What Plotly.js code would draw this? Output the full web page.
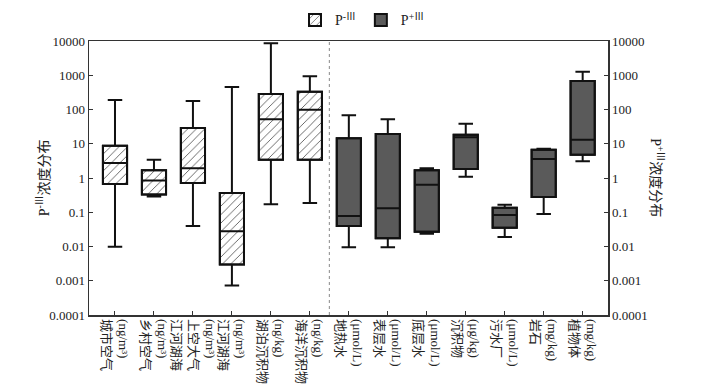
<!DOCTYPE html>
<html>
<head>
<meta charset="utf-8">
<script src="https://cdn.plot.ly/plotly-3.0.1.min.js"></script>
<style>html,body{margin:0;padding:0;background:#fff}#chart{width:724px;height:391px}</style>
</head>
<body>
<div id="chart"></div>
<script>
// Category labels (lines listed right-to-left as drawn after 90° rotation)
const categories = [
  "(ng/m³)<br>城市空气",
  "(ng/m³)<br>乡村空气",
  "(ng/m³)<br>上空大气<br>江河湖海",
  "(ng/m³)<br>江河湖海",
  "(ng/kg)<br>湖泊沉积物",
  "(ng/kg)<br>海洋沉积物",
  "(μmol/L)<br>地热水",
  "(μmol/L)<br>表层水",
  "(μmol/L)<br>底层水",
  "(μg/kg)<br>沉积物",
  "(μmol/L)<br>污水厂",
  "(mg/kg)<br>岩石",
  "(mg/kg)<br>植物体"
];
const xMinus = [0, 1, 2, 3, 4, 5];
const xPlus  = [6, 7, 8, 9, 10, 11, 12];

// P-III statistics
const minusLow    = [0.0098, 0.29, 0.04, 0.00073, 0.17, 0.186];
const minusQ1     = [0.67, 0.33, 0.71, 0.003, 3.4, 3.4];
const minusMedian = [2.74, 0.84, 1.92, 0.028, 51.6, 98.8];
const minusQ3     = [8.8, 1.68, 28.8, 0.365, 283, 331];
const minusHigh   = [189, 3.4, 177, 454, 8600, 932];

// P+III statistics
const plusLow    = [0.0095, 0.0095, 0.0237, 1.09, 0.019, 0.089, 3.06];
const plusQ1     = [0.04, 0.0173, 0.027, 1.83, 0.035, 0.28, 4.8];
const plusMedian = [0.078, 0.13, 0.64, 15.4, 0.083, 3.6, 13.1];
const plusQ3     = [14.4, 19.3, 1.68, 18.4, 0.136, 6.7, 680];
const plusHigh   = [68, 52, 1.92, 38.5, 0.166, 7.2, 1270];

const yTickVals = [0.0001, 0.001, 0.01, 0.1, 1, 10, 100, 1000, 10000];
const yTickText = ["0.0001", "0.001", "0.01", "0.1", "1", "10", "100", "1000", "10000"];

const serif = "Liberation Serif, 'Times New Roman', 'Noto Sans CJK SC', serif";
const BW = 0.62;

const diff = (a, b) => a.map((v, i) => v - b[i]);

const traces = [
  {
    type: "bar", name: "P<sup>-Ⅲ</sup>", x: xMinus, base: minusQ1, y: diff(minusQ3, minusQ1),
    width: BW, yaxis: "y",
    marker: { color: "#ffffff", line: { color: "#111", width: 2 },
      pattern: { shape: "/", fgcolor: "#333", bgcolor: "#ffffff", size: 6, solidity: 0.12 } },
    hoverinfo: "skip"
  },
  {
    type: "bar", name: "P<sup>+Ⅲ</sup>", x: xPlus, base: plusQ1, y: diff(plusQ3, plusQ1),
    width: BW, yaxis: "y2",
    marker: { color: "#5a5a5a", line: { color: "#111", width: 2 } },
    hoverinfo: "skip"
  },
  {
    type: "box", x: xMinus, q1: minusQ1, median: minusMedian, q3: minusQ3,
    lowerfence: minusLow, upperfence: minusHigh, width: BW, whiskerwidth: 0.6,
    fillcolor: "rgba(0,0,0,0)", line: { color: "#111", width: 2 },
    boxpoints: false, showlegend: false, yaxis: "y"
  },
  {
    type: "box", x: xPlus, q1: plusQ1, median: plusMedian, q3: plusQ3,
    lowerfence: plusLow, upperfence: plusHigh, width: BW, whiskerwidth: 0.6,
    fillcolor: "rgba(0,0,0,0)", line: { color: "#111", width: 2 },
    boxpoints: false, showlegend: false, yaxis: "y2"
  }
];

const yCommon = {
  type: "log", range: [-4, 4], tickvals: yTickVals, ticktext: yTickText, automargin: false,
  ticks: "inside", ticklen: 4, tickcolor: "#333", showgrid: false, zeroline: false,
  showline: true, linecolor: "#333", linewidth: 1.5,
  tickfont: { family: serif, size: 13, color: "#222" }
};

const layout = {
  width: 724, height: 391,
  margin: { l: 89, r: 116, t: 41, b: 76, autoexpand: false },
  paper_bgcolor: "#fff", plot_bgcolor: "#fff",
  barmode: "overlay", boxmode: "overlay",
  font: { family: serif, color: "#222" },
  showlegend: true,
  legend: { orientation: "h", xref: "container", yref: "container",
    x: 0.5, xanchor: "center", y: 0.948, yanchor: "middle",
    font: { family: serif, size: 14, color: "#222" }, bgcolor: "rgba(0,0,0,0)" },
  xaxis: {
    range: [-0.667, 12.65], tickvals: [0,1,2,3,4,5,6,7,8,9,10,11,12], ticktext: categories,
    tickangle: 90, ticks: "inside", ticklen: 4, tickcolor: "#333", automargin: false,
    showline: true, mirror: true, linecolor: "#333", linewidth: 1.5,
    showgrid: false, zeroline: false,
    tickfont: { family: serif, size: 13, color: "#222" }
  },
  yaxis: Object.assign({}, yCommon, { side: "left", mirror: true }),
  yaxis2: Object.assign({}, yCommon, { side: "right", overlaying: "y" }),
  shapes: [
    { type: "line", xref: "x", yref: "paper", x0: 5.5, x1: 5.5, y0: 0, y1: 1,
      line: { color: "#888", width: 1, dash: "dot" } }
  ],
  annotations: [
    { text: "P<sup>-Ⅲ</sup>浓度分布", xref: "paper", yref: "paper", x: -0.088, y: 0.5,
      xanchor: "center", yanchor: "middle", textangle: -90, showarrow: false,
      font: { family: serif, size: 14, color: "#222" } },
    { text: "P<sup>+Ⅲ</sup>浓度分布", xref: "paper", yref: "paper", x: 1.094, y: 0.5,
      xanchor: "center", yanchor: "middle", textangle: 90, showarrow: false,
      font: { family: serif, size: 14, color: "#222" } }
  ]
};

Plotly.newPlot("chart", traces, layout, { staticPlot: true, displayModeBar: false });
</script>
</body>
</html>
